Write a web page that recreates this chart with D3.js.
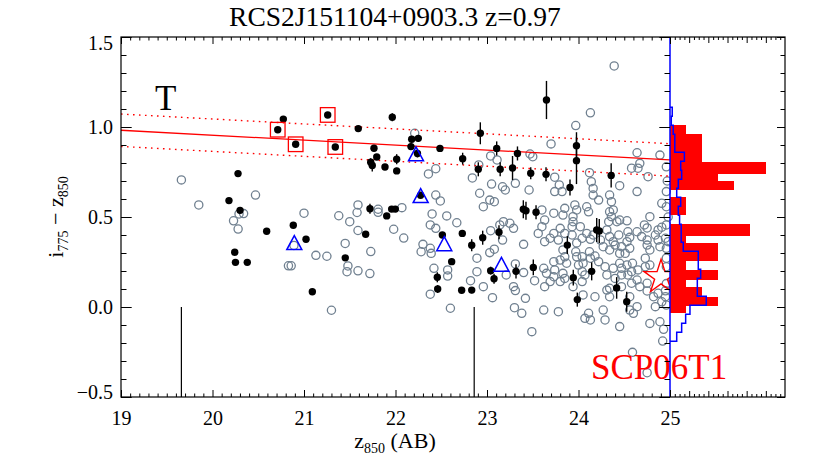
<!DOCTYPE html>
<html><head><meta charset="utf-8">
<script src="https://cdn.jsdelivr.net/npm/d3@7"></script>
<style>body{margin:0;background:#fff} text{font-family:"Liberation Serif","Times New Roman",Times,serif}</style>
</head><body>
<svg id="c" width="830" height="467"></svg>
<script>
// ---------- DATA ----------
const titleText = "RCS2J151104+0903.3 z=0.97";
const xMajorTicks = [19, 20, 21, 22, 23, 24, 25];
const xTickLabels = ["19", "20", "21", "22", "23", "24", "25"];
const yMajorTicks = [-0.5, 0, 0.5, 1.0, 1.5];
const yTickLabels = ["\u22120.5", "0.0", "0.5", "1.0", "1.5"];
const histMajorTicks = [1.2, 2.4, 3.6, 4.8, 6.0];

// field galaxies (grey open circles): [z850, i775-z850]
const fieldGalaxies = [
[19.66,0.706],[19.85,0.567],[20.47,0.622],[20.23,0.479],[20.29,0.517],[20.34,0.519],[20.28,0.433],
[21.00,0.521],[21.38,0.507],[21.59,0.567],[21.58,0.525],[21.50,0.474],[21.81,0.543],[21.81,0.526],
[22.07,0.552],[21.59,0.425],[21.98,0.432],[22.09,0.383],[22.21,0.965],[20.83,0.229],[20.86,0.229],
[21.13,0.287],[21.25,0.282],[21.30,-0.018],[21.45,0.353],[21.73,0.308],[21.48,0.228],[21.47,0.196],
[21.59,0.201],[21.72,0.186],[20.89,0.342],[22.44,0.622],[22.49,0.589],[22.40,0.517],[22.38,0.456],
[22.44,0.437],[22.56,0.506],[22.67,0.468],[22.30,0.348],[22.28,0.307],[22.38,0.326],[22.39,0.298],
[23.04,0.424],[23.17,0.372],[23.03,0.302],[23.08,0.321],[22.89,0.271],[22.42,0.215],[22.57,0.206],
[22.57,0.172],[22.38,0.071],[22.60,-0.007],[22.82,0.146],[22.89,0.196],[22.96,0.113],[23.06,0.052],
[23.21,0.178],[23.29,0.113],[23.31,0.091],[23.42,0.048],[23.31,0.239],[23.40,0.191],[23.30,-0.004],
[23.38,-0.035],[23.49,-0.137],[23.52,0.146],[23.40,0.348],[23.56,0.409],[22.92,0.632],[23.20,0.650],
[23.03,0.594],[23.08,0.585],[22.96,0.557],[23.14,0.456],[23.18,0.474],[23.25,0.465],[23.29,0.437],
[23.04,0.839],[23.11,0.817],[23.47,0.850],[23.50,0.835],[22.44,0.768],[22.36,0.739],[22.84,0.717],
[23.05,0.683],[23.17,0.668],[23.31,0.687],[23.46,0.650],[22.91,0.789],[24.39,1.339],[24.13,1.079],
[23.97,1.008],[23.70,0.906],[24.64,0.857],[24.89,0.844],[24.67,0.798],[24.65,0.771],[24.58,0.771],
[24.76,0.724],[24.12,0.746],[23.74,0.721],[23.79,0.678],[23.82,0.641],[23.74,0.641],[24.14,0.696],
[24.16,0.659],[24.16,0.622],[24.22,0.594],[24.34,0.622],[24.36,0.585],[24.45,0.674],[24.64,0.641],
[24.96,0.641],[24.96,0.779],[23.60,0.539],[23.63,0.483],[23.60,0.446],[23.73,0.521],[23.85,0.548],
[23.83,0.511],[23.96,0.567],[23.98,0.539],[23.94,0.502],[24.09,0.557],[24.11,0.529],[24.34,0.529],
[24.38,0.539],[24.36,0.502],[24.33,0.474],[24.42,0.474],[24.45,0.483],[24.53,0.479],[24.78,0.502],
[24.87,0.428],[24.91,0.443],[23.94,0.474],[23.93,0.446],[24.02,0.446],[23.80,0.437],[23.85,0.409],
[23.93,0.400],[23.73,0.409],[23.69,0.382],[23.63,0.363],[23.78,0.372],[24.04,0.382],[24.13,0.376],
[24.16,0.400],[24.09,0.409],[24.31,0.428],[24.34,0.391],[24.44,0.400],[24.38,0.363],[24.54,0.418],
[24.56,0.387],[24.64,0.418],[24.69,0.391],[24.75,0.372],[24.75,0.344],[24.84,0.400],[24.87,0.372],
[24.95,0.382],[24.98,0.363],[24.89,0.335],[24.96,0.326],[23.83,0.317],[23.85,0.279],[23.80,0.261],
[23.87,0.243],[23.97,0.307],[23.98,0.279],[24.04,0.279],[24.05,0.243],[24.00,0.233],[24.12,0.307],
[24.13,0.271],[24.18,0.283],[24.22,0.252],[24.27,0.335],[24.34,0.317],[24.40,0.344],[24.47,0.335],
[24.51,0.298],[24.56,0.326],[24.29,0.224],[24.38,0.215],[24.45,0.243],[24.47,0.215],[24.53,0.233],
[24.59,0.243],[24.73,0.271],[24.73,0.224],[24.78,0.233],[23.62,0.215],[23.65,0.187],[23.74,0.206],
[23.73,0.168],[23.69,0.141],[23.63,0.113],[23.83,0.187],[23.85,0.159],[23.80,0.141],[24.04,0.196],
[24.07,0.178],[24.04,0.141],[23.94,0.113],[24.31,0.178],[24.40,0.159],[24.47,0.178],[24.54,0.178],
[24.58,0.132],[24.64,0.150],[24.67,0.113],[24.47,0.113],[24.34,0.104],[24.18,0.057],[24.31,0.094],
[24.34,0.057],[24.05,0.067],[24.11,-0.035],[24.07,-0.063],[24.13,-0.072],[24.27,-0.017],[24.29,-0.072],
[24.56,-0.017],[24.60,-0.035],[24.64,0.002],[24.45,-0.109],[24.78,-0.091],[24.89,-0.082],[24.84,0.002],
[24.91,0.029],[23.62,-0.017],[24.82,0.057],[24.87,0.076],[24.95,0.057],[24.93,-0.124],[24.96,0.011],
[24.75,0.132],[24.58,0.196],[24.65,0.206],[24.96,0.271],[24.96,0.224],[24.56,0.057],[24.75,0.089],
[23.73,0.252],[24.91,0.576],[24.96,0.557],[24.72,0.456],[24.96,0.456],[24.75,0.439],[23.98,0.356],
[24.45,0.298],[24.24,0.372],[24.53,0.363],[24.78,0.317],[24.59,-0.252],[24.75,-0.365],[24.92,-0.189],
[23.78,-0.026],[24.97,0.700],[24.98,0.500],[24.96,0.130],[24.95,0.090]
];

// cluster members (black dots): z850, colour, colour error
const memberZ = [20.774,20.713,20.909,21.259,21.342,21.593,21.965,22.177,22.169,22.249,22.240,21.765,21.795,21.729,21.746,21.885,22.013,22.013,
20.279,20.180,20.301,20.592,20.883,21.022,21.674,21.721,21.904,21.958,21.998,20.243,20.251,20.380,21.091,21.451,
22.486,22.734,22.927,23.106,22.905,23.144,23.279,23.333,23.478,23.645,23.650,23.907,23.978,23.978,24.357,
22.274,22.512,22.730,22.833,22.953,23.131,22.614,22.457,22.461,22.723,22.833,23.040,23.077,23.317,23.506,
23.397,23.426,23.536,23.878,24.199,24.227,24.144,23.943,23.987,24.417,24.527];
const memberC = [1.044,0.985,0.904,1.067,0.889,0.991,1.054,0.932,0.891,0.937,0.853,0.882,0.833,0.804,0.786,0.778,0.821,0.756,
0.741,0.591,0.537,0.421,0.454,0.376,0.404,0.546,0.506,0.544,0.544,0.304,0.248,0.248,0.085,0.273,
0.881,0.824,0.965,0.881,0.765,0.765,0.772,0.853,0.743,0.737,1.150,0.664,0.896,0.813,0.731,
0.621,0.400,0.409,0.343,0.385,0.415,0.252,0.165,0.100,0.093,0.094,0.202,0.157,0.198,0.220,
0.543,0.535,0.526,0.344,0.428,0.422,0.198,0.163,0.041,0.106,0.029];
const memberErr = [0.017,0.010,0.010,0.010,0.010,0.012,0.022,0.017,0.017,0.017,0.022,0.017,0.017,0.022,0.033,0.010,0.028,0.017,
0,0,0,0,0,0,0,0.028,0,0,0,0,0,0,0,0,
0.017,0.033,0.061,0.039,0.039,0.039,0.067,0.039,0.033,0.039,0.106,0.044,0.075,0.130,0.067,
0.017,0.012,0.012,0.033,0.039,0.039,0.017,0.028,0.022,0.017,0.017,0.022,0.028,0.039,0.044,
0.050,0.050,0.039,0.050,0.067,0.067,0.050,0.044,0.039,0.060,0.056];

// spectroscopic members (red squares)
const specZ = [20.713, 20.909, 21.259, 21.342];
const specC = [0.985, 0.904, 1.067, 0.889];
// blue triangles
const triZ = [20.894, 22.224, 22.275, 22.533, 23.158];
const triC = [0.358, 0.851, 0.619, 0.352, 0.237];
// SN host (red star)
const starZ = [24.902];
const starC = [0.166];

// red-sequence fit
const rsZ = [19, 25];
const rsC = [0.982, 0.817];
const rsHalfWidth = 0.09;

// magnitude limit markers (vertical lines from colour 0 down)
const vlineZ = [19.66, 22.86];

// red histogram (colour bins, counts)
const redHistHi = [1.013,0.961,0.804,0.739,0.702,0.611,0.461,0.393,0.356,0.254,0.207,0.152,0.109,0.054,0.004];
const redHistLo = [0.961,0.804,0.739,0.702,0.648,0.513,0.393,0.356,0.254,0.207,0.152,0.109,0.054,0.004,-0.033];
const redHistN  = [1,2,6,3,4,1,5,1,3,1,3,1,2,3,1];

// blue (field) histogram, bin width 0.05, lower edges and scaled counts
const blueBinWidth = 0.05;
const blueHistLo = [1.06,1.01,0.96,0.91,0.86,0.81,0.76,0.71,0.66,0.61,0.56,0.51,0.46,0.41,0.36,0.31,0.26,0.21,0.16,0.11,0.06,0.01,-0.04,-0.09,-0.14,-0.19];
const blueHistVal = [0.14,0.08,0.2,0.3,0.3,0.9,0.67,0.73,0.52,0.42,0.67,0.52,0.6,0.7,0.7,0.83,1.77,1.77,1.92,1.71,1.71,2.27,1.25,0.98,0.73,0.42];

// ---------- DRAW ----------
const svg = d3.select("#c");
const serif = '"Liberation Serif","Times New Roman",Times,serif';
const x = d3.scaleLinear().domain([19, 25]).range([121, 670]);
const y = d3.scaleLinear().domain([-0.5, 1.5]).range([397, 37]);
const hx = d3.scaleLinear().domain([0, 7.2]).range([670, 785]);

// grey field galaxies
svg.append("g").selectAll("circle").data(fieldGalaxies).join("circle")
  .attr("cx", d => x(d[0])).attr("cy", d => y(d[1])).attr("r", 4.1)
  .attr("fill", "none").attr("stroke", "#708090").attr("stroke-width", 1.3);

// red sequence lines
const line = d3.line().x(d => x(d[0])).y(d => y(d[1]));
const rsPts = rsZ.map((z, i) => [z, rsC[i]]);
svg.append("path").attr("d", line(rsPts)).attr("fill", "none").attr("stroke", "#ff0000").attr("stroke-width", 1.3);
[-rsHalfWidth, rsHalfWidth].forEach(off => {
  svg.append("path").attr("d", line(rsPts.map(p => [p[0], p[1] + off])))
    .attr("fill", "none").attr("stroke", "#ff0000").attr("stroke-width", 1.4).attr("stroke-dasharray", "1.6,4.4");
});

// vertical black lines
svg.append("g").selectAll("line").data(vlineZ).join("line")
  .attr("x1", d => x(d)).attr("x2", d => x(d)).attr("y1", y(0)).attr("y2", y(-0.5))
  .attr("stroke", "#000").attr("stroke-width", 1.2);

// members
const members = memberZ.map((z, i) => ({z, c: memberC[i], e: memberErr[i]}));
svg.append("g").selectAll("line").data(members.filter(d => d.e > 0)).join("line")
  .attr("x1", d => x(d.z)).attr("x2", d => x(d.z))
  .attr("y1", d => y(d.c - d.e)).attr("y2", d => y(d.c + d.e))
  .attr("stroke", "#000").attr("stroke-width", 1.4);
svg.append("g").selectAll("circle").data(members).join("circle")
  .attr("cx", d => x(d.z)).attr("cy", d => y(d.c)).attr("r", 3.7).attr("fill", "#000");

// red squares
svg.append("g").selectAll("rect").data(specZ.map((z, i) => [z, specC[i]])).join("rect")
  .attr("x", d => x(d[0]) - 7.3).attr("y", d => y(d[1]) - 7.3).attr("width", 14.6).attr("height", 14.6)
  .attr("fill", "none").attr("stroke", "#ff0000").attr("stroke-width", 1.3);

// blue triangles
svg.append("g").selectAll("path").data(triZ.map((z, i) => [z, triC[i]])).join("path")
  .attr("transform", d => `translate(${x(d[0])},${y(d[1])})`)
  .attr("d", "M0,-7L7.5,7L-7.5,7Z")
  .attr("fill", "none").attr("stroke", "#0000ff").attr("stroke-width", 1.5);

// red star
const R = 17.8, r = R * 0.38;
const starPath = d3.range(10).map(k => {
  const a = -Math.PI / 2 + k * Math.PI / 5, rr = k % 2 ? r : R;
  return [rr * Math.cos(a), rr * Math.sin(a)];
});
svg.append("g").selectAll("path").data(starZ.map((z, i) => [z, starC[i]])).join("path")
  .attr("transform", d => `translate(${x(d[0])},${y(d[1])})`)
  .attr("d", "M" + starPath.map(p => p.join(",")).join("L") + "Z")
  .attr("fill", "none").attr("stroke", "#ff0000").attr("stroke-width", 1.4);

// red histogram
svg.append("g").selectAll("rect")
  .data(redHistN.map((n, i) => ({n, hi: redHistHi[i], lo: redHistLo[i]}))).join("rect")
  .attr("x", hx(0)).attr("y", d => y(d.hi)).attr("width", d => hx(d.n) - hx(0))
  .attr("height", d => y(d.lo) - y(d.hi)).attr("fill", "#ff0000").attr("shape-rendering", "crispEdges");

// SCP06T1 label
svg.append("text").attr("x", 591).attr("y", 379).attr("font-family", serif).attr("font-size", 35)
  .attr("fill", "#ff0000").text("SCP06T1");

// blue step histogram
const bpts = [[hx(0), y(blueHistLo[0] + blueBinWidth)]];
blueHistLo.forEach((lo, i) => {
  bpts.push([hx(blueHistVal[i]), y(lo + blueBinWidth)]);
  bpts.push([hx(blueHistVal[i]), y(lo)]);
});
bpts.push([hx(0), y(blueHistLo[blueHistLo.length - 1])]);
svg.append("path").attr("d", d3.line()(bpts)).attr("fill", "none").attr("stroke", "#0000ff").attr("stroke-width", 1.5);
svg.append("line").attr("x1", hx(0)).attr("x2", hx(0)).attr("y1", y(1.5)).attr("y2", y(-0.5))
  .attr("stroke", "#0000ff").attr("stroke-width", 1.5);

// axes
function styleAxis(g) {
  g.select(".domain").remove();
  g.selectAll("line").attr("stroke", "#000").attr("stroke-width", 1);
  g.attr("font-family", serif).attr("font-size", 20);
  g.selectAll("text").attr("fill", "#000").attr("font-family", serif).attr("font-size", 20);
}
const xMinor = d3.range(190, 251).map(i => i / 10).filter(v => Math.abs(v - Math.round(v)) > 1e-6);
const yMinor = d3.range(-5, 16).map(i => i / 10).filter(v => Math.abs(v * 2 - Math.round(v * 2)) > 1e-6);
const hMinor = d3.range(1, 24).map(i => +(i * 0.3).toFixed(2)).filter(v => !histMajorTicks.includes(v));

svg.append("g").attr("transform", "translate(0,397)")
  .call(d3.axisBottom(x).tickValues(xMajorTicks).tickSize(-7).tickPadding(14).tickFormat((d, i) => xTickLabels[i])).call(styleAxis);
svg.append("g").attr("transform", "translate(0,397)")
  .call(d3.axisBottom(x).tickValues(xMinor).tickSize(-3.5).tickFormat("")).call(styleAxis);
svg.append("g").attr("transform", "translate(0,37)")
  .call(d3.axisTop(x).tickValues(xMajorTicks).tickSize(-7).tickFormat("")).call(styleAxis);
svg.append("g").attr("transform", "translate(0,37)")
  .call(d3.axisTop(x).tickValues(xMinor).tickSize(-3.5).tickFormat("")).call(styleAxis);

const yl = svg.append("g").attr("transform", "translate(121,0)")
  .call(d3.axisLeft(y).tickValues(yMajorTicks).tickSize(-10.7).tickPadding(8).tickFormat((d, i) => yTickLabels[i])).call(styleAxis);
yl.selectAll(".tick text").attr("transform", d => d === 1.5 ? "translate(0,6)" : d === -0.5 ? "translate(0,-5)" : null);
svg.append("g").attr("transform", "translate(121,0)")
  .call(d3.axisLeft(y).tickValues(yMinor).tickSize(-5.5).tickFormat("")).call(styleAxis);
svg.append("g").attr("transform", "translate(670,0)")
  .call(d3.axisRight(y).tickValues(yMajorTicks).tickSize(-10.7).tickFormat("")).call(styleAxis);
svg.append("g").attr("transform", "translate(670,0)")
  .call(d3.axisRight(y).tickValues(yMinor).tickSize(-5.5).tickFormat("")).call(styleAxis);
svg.append("g").attr("transform", "translate(785,0)")
  .call(d3.axisRight(y).tickValues(yMajorTicks).tickSize(-8).tickFormat("")).call(styleAxis);
svg.append("g").attr("transform", "translate(785,0)")
  .call(d3.axisRight(y).tickValues(yMinor).tickSize(-4.5).tickFormat("")).call(styleAxis);

svg.append("g").attr("transform", "translate(0,397)")
  .call(d3.axisBottom(hx).tickValues(histMajorTicks).tickSize(-6).tickFormat("")).call(styleAxis);
svg.append("g").attr("transform", "translate(0,397)")
  .call(d3.axisBottom(hx).tickValues(hMinor).tickSize(-3).tickFormat("")).call(styleAxis);
svg.append("g").attr("transform", "translate(0,37)")
  .call(d3.axisTop(hx).tickValues(histMajorTicks).tickSize(-6).tickFormat("")).call(styleAxis);
svg.append("g").attr("transform", "translate(0,37)")
  .call(d3.axisTop(hx).tickValues(hMinor).tickSize(-3).tickFormat("")).call(styleAxis);

// frame
svg.append("rect").attr("x", 121).attr("y", 37).attr("width", 664).attr("height", 360)
  .attr("fill", "none").attr("stroke", "#000").attr("stroke-width", 1.2);

// texts
svg.append("text").attr("x", 395).attr("y", 26).attr("text-anchor", "middle")
  .attr("font-family", serif).attr("font-size", 27.5).text(titleText);
svg.append("text").attr("x", 155).attr("y", 110).attr("font-family", serif).attr("font-size", 35).text("T");

const xl = svg.append("text").attr("x", 395).attr("y", 448).attr("text-anchor", "middle")
  .attr("font-family", serif).attr("font-size", 22);
xl.append("tspan").text("z");
xl.append("tspan").attr("font-size", 14).attr("dy", 5).text("850");
xl.append("tspan").attr("dy", -5).text(" (AB)");

const ylab = svg.append("text").attr("transform", "translate(63,217) rotate(-90)").attr("text-anchor", "middle")
  .attr("font-family", serif).attr("font-size", 22);
ylab.append("tspan").text("i");
ylab.append("tspan").attr("font-size", 14).attr("dy", 5).text("775");
ylab.append("tspan").attr("dy", -5).text(" \u2212 z");
ylab.append("tspan").attr("font-size", 14).attr("dy", 5).text("850");
</script>
</body></html>
